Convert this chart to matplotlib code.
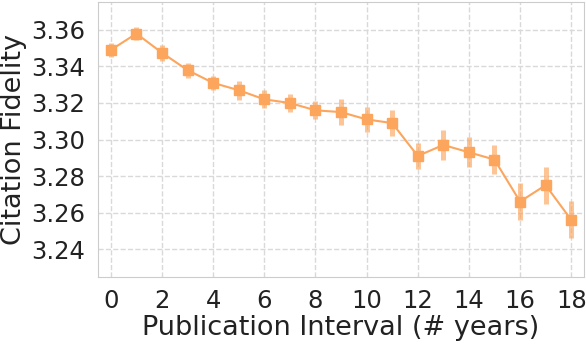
import numpy as np
import matplotlib
matplotlib.use('Agg')
import matplotlib.pyplot as plt

years = list(range(19))
fidelity = [3.349, 3.358, 3.3475, 3.338, 3.331, 3.327, 3.322, 3.320, 3.316, 3.315,
            3.311, 3.309, 3.291, 3.297, 3.293, 3.289, 3.266, 3.275, 3.256]
err = [0.0036, 0.0037, 0.0043, 0.0041, 0.004, 0.0052, 0.0049, 0.0051, 0.0049, 0.0071,
       0.0069, 0.007, 0.0071, 0.0081, 0.0082, 0.008, 0.0101, 0.0101, 0.0101]
yticks = [3.24, 3.26, 3.28, 3.30, 3.32, 3.34, 3.36]

col = '#fca55d'

fig = plt.figure(figsize=(5.86, 3.46), dpi=100)
# axes box: left 98px, right 584px, top 2px, bottom 277px
ax = fig.add_axes([98/586, 69/346, 486/586, 275/346])

eb = ax.errorbar(years, fidelity, yerr=err, color=col, ecolor=col, elinewidth=3.6,
                 fmt='none', zorder=2)
for c in eb[2]:
    c.set_alpha(0.65)
ax.plot(years, fidelity, color=col, marker='s', markersize=6.8, linewidth=1.5, zorder=3)

ax.set_xlim(-0.5, 18.5)
ax.set_ylim(3.2247, 3.3753)
ax.set_xticks(range(0, 19, 2))
ax.set_yticks(yticks)
ax.set_yticklabels(['%.2f' % v for v in yticks])
ax.grid(True, linestyle='--', color='#d9d9d9', linewidth=1)
ax.set_axisbelow(True)
for s in ax.spines.values():
    s.set_color('#cccccc')
ax.tick_params(labelsize=17.5, colors='#222222', length=0)
ax.tick_params(axis='x', pad=9)
ax.tick_params(axis='y', pad=9)
ax.set_xlabel('Publication Interval (# years)', fontsize=19.5, color='#222222', labelpad=1)
ax.set_ylabel('Citation Fidelity', fontsize=19.5, color='#222222', labelpad=3)

fig.savefig('out.png', dpi=100)
